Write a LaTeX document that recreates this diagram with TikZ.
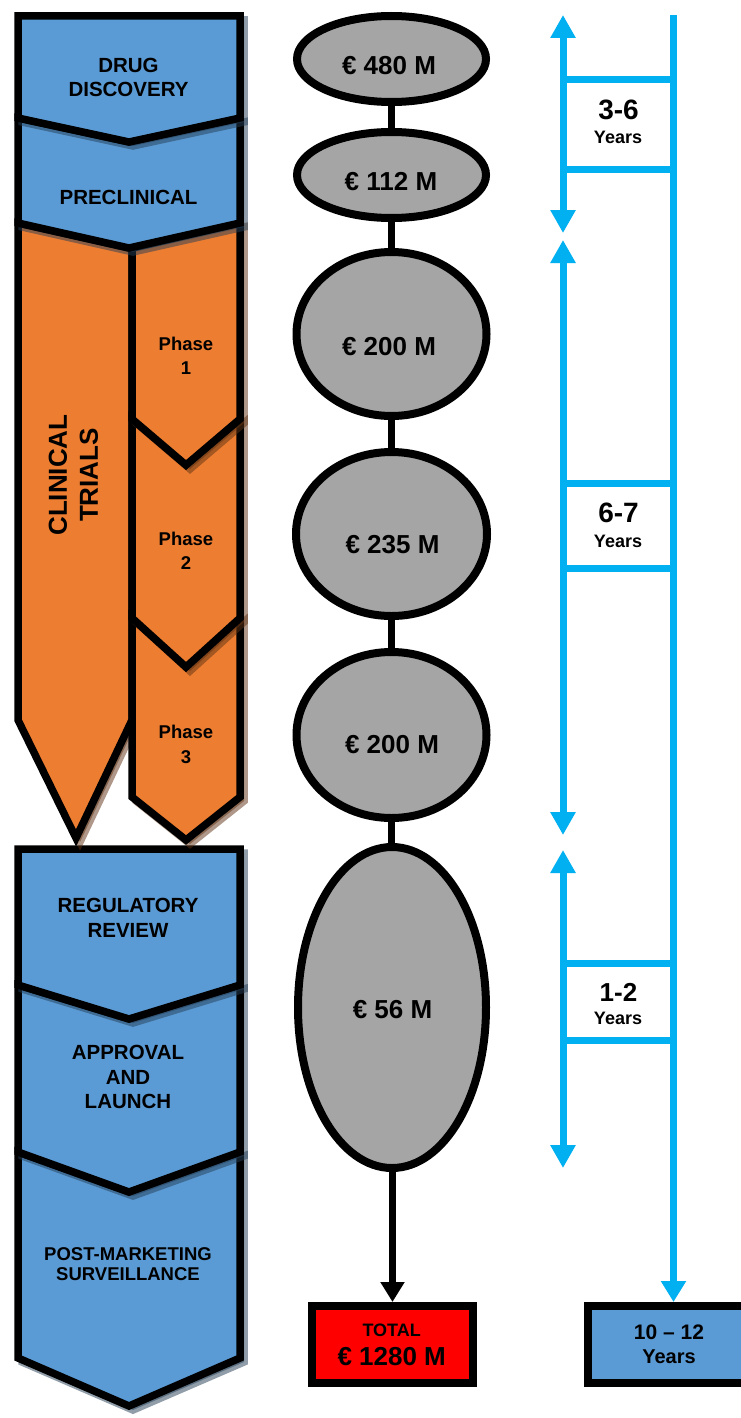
\documentclass[tikz,border=0pt]{standalone}
\usepackage{fontspec}
\setmainfont{Liberation Sans}
\usetikzlibrary{arrows.meta,shapes.geometric}
\definecolor{blueF}{HTML}{5B9BD5}
\definecolor{orangeF}{HTML}{ED7D31}
\definecolor{grayF}{HTML}{A5A5A5}
\definecolor{cyanL}{HTML}{00B0F0}
\definecolor{redF}{HTML}{FF0000}
\colorlet{blueSh}{blueF!40!black}
\colorlet{orangeSh}{orangeF!40!black}
\newcommand\myfs[2]{\fontsize{#1}{#2}\selectfont\bfseries}
\newcommand\chevshape[3]{%
  \path[fill=#2,draw=#2,fill opacity=0.5,draw opacity=0.5,line width=7.5pt,xshift=4pt,yshift=-4pt] #3;
  \path[fill=#1,draw=black,line width=7.5pt] #3;}
\begin{document}
\begin{tikzpicture}[x=1pt,y=-1pt,
  txt/.style={align=center,inner sep=0pt,text=black},
  ell/.style={ellipse,draw=black,fill=grayF,line width=8pt,inner sep=0pt},
  blk/.style={draw=black,line width=7.5pt},
  cyl/.style={draw=cyanL,line width=7pt},
  rung/.style={rectangle,draw=cyanL,line width=7pt,inner sep=0pt},
  endbox/.style={rectangle,draw=black,line width=8pt,inner sep=0pt,minimum width=161pt,minimum height=77pt},
  tipC/.tip={Triangle[width=24pt,length=23pt]}
]
\useasboundingbox (0,0) rectangle (741,1418);

% ---------- left column (drawn bottom to top) ----------
\chevshape{blueF}{blueSh}{(18,1152) -- (129,1192) -- (240,1152) -- (240,1358) -- (129,1406) -- (18,1358) -- cycle}
\chevshape{blueF}{blueSh}{(18,985) -- (129,1019) -- (240,985) -- (240,1152) -- (129,1192) -- (18,1152) -- cycle}
\chevshape{blueF}{blueSh}{(18,849) -- (240,849) -- (240,985) -- (129,1019) -- (18,985) -- cycle}
\chevshape{orangeF}{orangeSh}{(18,223) -- (129,248) -- (132,248) -- (132,720) -- (76,838) -- (18,720) -- cycle}
\chevshape{orangeF}{orangeSh}{(132,618) -- (186,667) -- (240,618) -- (240,797) -- (186,840) -- (132,797) -- cycle}
\chevshape{orangeF}{orangeSh}{(132,419) -- (186,465) -- (240,419) -- (240,618) -- (186,667) -- (132,618) -- cycle}
\chevshape{orangeF}{orangeSh}{(132,248) -- (240,223) -- (240,419) -- (186,465) -- (132,419) -- cycle}
\chevshape{blueF}{blueSh}{(18,118) -- (129,142) -- (240,118) -- (240,223) -- (129,248) -- (18,223) -- cycle}
\chevshape{blueF}{blueSh}{(18,16) -- (240,16) -- (240,118) -- (129,142) -- (18,118) -- cycle}

\node[txt,font=\myfs{20.5}{24}] (tdd) at (128.5,77.5) {DRUG\\DISCOVERY};
\node[txt,font=\myfs{20.5}{24}] (tpc) at (128.5,197.5) {PRECLINICAL};
\node[txt,font=\myfs{26}{31},rotate=90] (tct) at (73.5,475) {CLINICAL\\TRIALS};
\node[txt,font=\myfs{18.5}{24.5}] (tp1) at (186,356) {Phase\\1};
\node[txt,font=\myfs{18.5}{24.5}] (tp2) at (186,551) {Phase\\2};
\node[txt,font=\myfs{18.5}{25}] (tp3) at (186,744.5) {Phase\\3};
\node[txt,font=\myfs{20.5}{25}] (trr) at (128,918) {REGULATORY\\REVIEW};
\node[txt,font=\myfs{20.5}{24.5}] (tal) at (128,1077) {APPROVAL\\AND\\LAUNCH};
\node[txt,font=\myfs{18.5}{20.5}] (tpm) at (128,1264) {POST-MARKETING\\SURVEILLANCE};

% ---------- cost column ----------
\node[ell,minimum width=189pt,minimum height=86pt] (e1) at (391.5,59) {};
\node[ell,minimum width=189pt,minimum height=86pt] (e2) at (391.5,175) {};
\node[ell,minimum width=190pt,minimum height=164pt] (e3) at (391.5,334) {};
\node[ell,minimum width=191pt,minimum height=164pt] (e4) at (391.5,534) {};
\node[ell,minimum width=190pt,minimum height=166pt] (e5) at (391.5,735) {};
\node[ell,minimum width=188pt,minimum height=321pt] (e6) at (392,1007.5) {};
\node[endbox,fill=redF] (total) at (392.5,1344.5) {};

\draw[blk] (e1.south) -- (e2.north);
\draw[blk] (e2.south) -- (e3.north);
\draw[blk] (e3.south) -- (e4.north);
\draw[blk] (e4.south) -- (e5.north);
\draw[blk] (e5.south) -- (e5.south |- e6.north);
\draw[blk,-{Triangle[width=23pt,length=20pt]}] (e6.south -| total.north) -- (total.north);

\node[txt,font=\myfs{26}{28}] (c1) at (389,66) {€ 480 M};
\node[txt,font=\myfs{26}{28}] (c2) at (391,182) {€ 112 M};
\node[txt,font=\myfs{26}{28}] (c3) at (389,347) {€ 200 M};
\node[txt,font=\myfs{26}{28}] (c4) at (392.5,545) {€ 235 M};
\node[txt,font=\myfs{26}{28}] (c5) at (392,745) {€ 200 M};
\node[txt,font=\myfs{26}{28}] (c6) at (392.5,1010) {€ 56 M};
\node[txt,font=\myfs{18}{20}] (ctot1) at (391.7,1330) {TOTAL};
\node[txt,font=\myfs{26}{28}] (ctot2) at (391.7,1357) {€ 1280 M};

% ---------- time column ----------
\node[endbox,fill=blueF,minimum width=160pt] (yrs) at (668,1344.5) {};
\coordinate (r0) at (673.5,15);
\draw[cyl,-{Triangle[width=24pt,length=21pt]}] (r0) -- (r0 |- yrs.north);

\coordinate (a1t) at (563,15);   \coordinate (a1b) at (563,233);
\coordinate (a2t) at (563,240);  \coordinate (a2b) at (563,835);
\coordinate (a3t) at (563,850);  \coordinate (a3b) at (563,1168);
\draw[cyl,tipC-tipC] (a1t) -- (a1b);
\draw[cyl,tipC-tipC] (a2t) -- (a2b);
\draw[cyl,tipC-tipC] (a3t) -- (a3b);

\node[rung,minimum width=110.5pt,minimum height=89.5pt] (b1) at (618.25,124.25) {};
\node[rung,minimum width=110.5pt,minimum height=85pt] (b2) at (618.25,525.5) {};
\node[rung,minimum width=110.5pt,minimum height=77pt] (b3) at (618.25,1001.5) {};

\node[txt,font=\myfs{28}{30}] (y1n) at (618.5,110) {3-6};
\node[txt,font=\myfs{18}{20}] (y1y) at (618,137) {Years};
\node[txt,font=\myfs{28}{30}] (y2n) at (618.5,513) {6-7};
\node[txt,font=\myfs{18}{20}] (y2y) at (618,541) {Years};
\node[txt,font=\myfs{26}{28}] (y3n) at (618.5,992.5) {1-2};
\node[txt,font=\myfs{18}{20}] (y3y) at (618,1018) {Years};
\node[txt,font=\myfs{21}{23}] (ytot1) at (669,1332) {10 – 12};
\node[txt,font=\myfs{20}{22}] (ytot2) at (669,1356.5) {Years};
\end{tikzpicture}
\end{document}
